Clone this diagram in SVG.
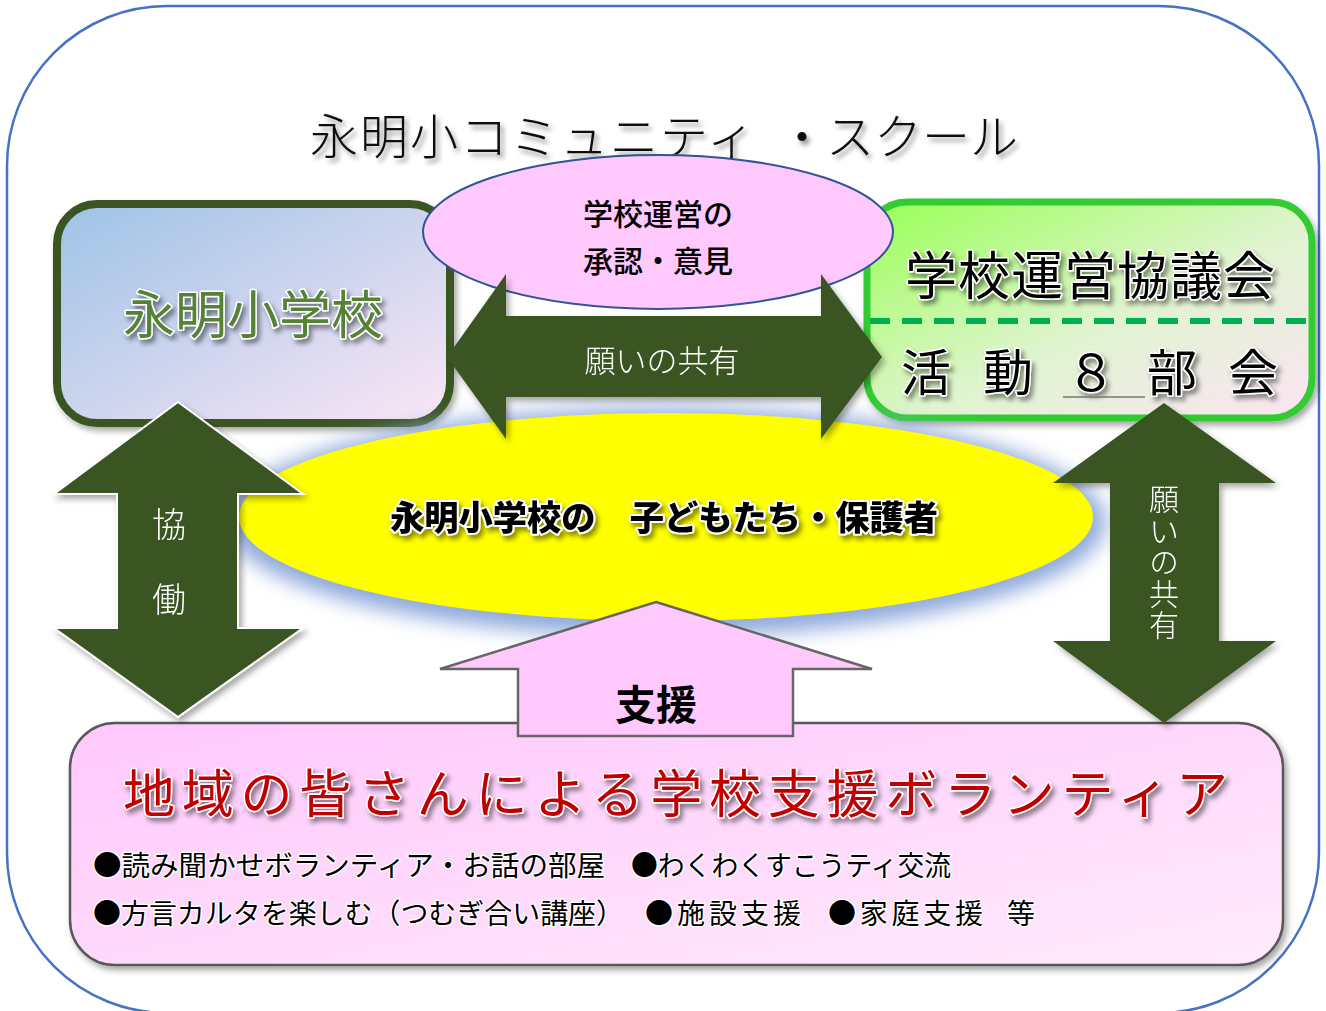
<svg xmlns="http://www.w3.org/2000/svg" width="1326" height="1011" viewBox="0 0 1326 1011">
<defs>
<linearGradient id="gLeft" x1="0" y1="0" x2="1" y2="1">
<stop offset="0" stop-color="#9DC3E6"/><stop offset="1" stop-color="#FCE6F6"/>
</linearGradient>
<linearGradient id="gRight" x1="0" y1="0" x2="1" y2="1">
<stop offset="0" stop-color="#99FF55"/><stop offset="0.55" stop-color="#E0F4D0"/><stop offset="1" stop-color="#FCE4F4"/>
</linearGradient>
<linearGradient id="gBottom" x1="0" y1="0" x2="1" y2="1">
<stop offset="0" stop-color="#FFC8FC"/><stop offset="1" stop-color="#FFEAFB"/>
</linearGradient>
<filter id="sh" x="-10%" y="-10%" width="125%" height="130%">
<feDropShadow dx="3" dy="4" stdDeviation="3" flood-color="#000" flood-opacity="0.35"/>
</filter>
<filter id="tsh" x="-10%" y="-30%" width="125%" height="170%">
<feDropShadow dx="3" dy="4" stdDeviation="2.5" flood-color="#000" flood-opacity="0.45"/>
</filter>
<filter id="glow" x="-20%" y="-40%" width="140%" height="180%">
<feGaussianBlur stdDeviation="10"/>
</filter>
<style>
text{font-family:"Noto Sans CJK JP","Noto Sans CJK SC",sans-serif;}
.halo{paint-order:stroke;stroke:#fff;stroke-linejoin:round;}
.arrow{fill:#3A5524;}
.wt{fill:#fff;font-weight:300;}
</style>
</defs>

<rect id="frame" x="7" y="6" width="1312" height="1007" rx="160" ry="160" fill="#fff" stroke="#4472C4" stroke-width="2.5"/>

<g id="title">
<text font-size="48" font-weight="300" fill="#111" filter="url(#tsh)" y="154"><tspan x="310" textLength="445" lengthAdjust="spacing">永明小コミュニティ</tspan><tspan x="778">・スクール</tspan></text>
</g>

<g id="school">
<rect x="57" y="204" width="393" height="219" rx="40" fill="url(#gLeft)" stroke="#3A5524" stroke-width="8" filter="url(#sh)"/>
<text x="253" y="334" font-size="52" text-anchor="middle" fill="#548235" class="halo" stroke-width="3" filter="url(#tsh)">永明小学校</text>
</g>

<g id="council">
<rect x="867" y="202" width="445" height="216" rx="40" fill="url(#gRight)" stroke="#33CC33" stroke-width="7" filter="url(#sh)"/>
<line x1="870" y1="321" x2="1309" y2="321" stroke="#00B050" stroke-width="6" stroke-dasharray="20 12"/>
<text x="1090" y="295" font-size="52" text-anchor="middle" fill="#000" class="halo" stroke-width="3" filter="url(#tsh)" textLength="370" lengthAdjust="spacing">学校運営協議会</text>
<g font-size="50" text-anchor="middle" fill="#000" class="halo" stroke-width="3" filter="url(#tsh)">
<text x="926" y="391">活</text>
<text x="1008" y="391">動</text>
<text x="1091" y="391">８</text>
<text x="1172" y="391">部</text>
<text x="1253" y="391">会</text>
</g>
<line x1="1063" y1="397" x2="1145" y2="397" stroke="#777" stroke-width="1.5"/>
</g>

<g id="children">
<ellipse cx="666" cy="522" rx="440" ry="114" fill="#8EA9DB" filter="url(#glow)"/>
<ellipse cx="666" cy="517" rx="427" ry="104" fill="#FFFF00"/>
<text x="664" y="530" font-size="34" font-weight="900" text-anchor="middle" fill="#000" class="halo" stroke-width="4" textLength="548" lengthAdjust="spacingAndGlyphs" filter="url(#tsh)">永明小学校の　子どもたち・保護者</text>
</g>

<g id="approval">
<ellipse cx="658" cy="232" rx="235" ry="77" fill="#FFC9FD" stroke="#2F5597" stroke-width="2"/>
<text x="658" y="225" font-size="30" font-weight="500" text-anchor="middle" fill="#000">学校運営の</text>
<text x="658" y="272" font-size="30" font-weight="500" text-anchor="middle" fill="#000">承認・意見</text>
</g>

<g id="volunteers">
<rect x="70" y="723" width="1213" height="242" rx="45" fill="url(#gBottom)" stroke="#595959" stroke-width="2.5" filter="url(#sh)"/>
<text x="123" y="813" font-size="52" fill="#C00000" class="halo" stroke-width="3" textLength="1105" lengthAdjust="spacing" filter="url(#tsh)">地域の皆さんによる学校支援ボランティア</text>
<g font-size="28" fill="#000" class="halo" stroke-width="2.5">
<text x="93" y="876" textLength="512" lengthAdjust="spacingAndGlyphs">●読み聞かせボランティア・お話の部屋</text>
<text x="631" y="876" textLength="320" lengthAdjust="spacingAndGlyphs">●わくわくすこうティ交流</text>
<text x="93" y="924" textLength="531" lengthAdjust="spacingAndGlyphs">●方言カルタを楽しむ（つむぎ合い講座）</text>
<text x="645" y="924" textLength="156" lengthAdjust="spacing">●施設支援</text>
<text x="828" y="924" textLength="155" lengthAdjust="spacing">●家庭支援</text>
<text x="1007" y="924">等</text>
</g>
</g>

<g id="connectors">
<g id="arrow-share-h" filter="url(#sh)">
<polygon class="arrow" points="447,357 506,274 506,316 821,316 821,274 882,357 821,439 821,397 506,397 506,439"/>
<text x="662" y="372" font-size="31" class="wt" text-anchor="middle">願いの共有</text>
</g>
<g id="arrow-cooperate" filter="url(#sh)">
<polygon class="arrow" stroke="#fff" stroke-width="2" points="178,402 303,494 238,494 238,628 303,628 178,717 54,628 117,628 117,494 54,494"/>
<text x="169" y="537" font-size="34" class="wt" text-anchor="middle">協</text>
<text x="169" y="612" font-size="34" class="wt" text-anchor="middle">働</text>
</g>
<g id="arrow-share-v" filter="url(#sh)">
<polygon class="arrow" points="1164,403 1276,483 1219,483 1219,641 1276,641 1164,723 1053,641 1110,641 1110,483 1053,483"/>
<text x="1164" y="484" font-size="30" class="wt" writing-mode="vertical-rl" letter-spacing="1.5">願いの共有</text>
</g>
<g id="arrow-support">
<polygon fill="#FFC9FD" stroke="#666" stroke-width="2.5" points="656,602 872,669 793,669 793,736 518,736 518,669 440,669"/>
<text x="656" y="720" font-size="41" font-weight="700" text-anchor="middle" fill="#000">支援</text>
</g>
</g>
</svg>
